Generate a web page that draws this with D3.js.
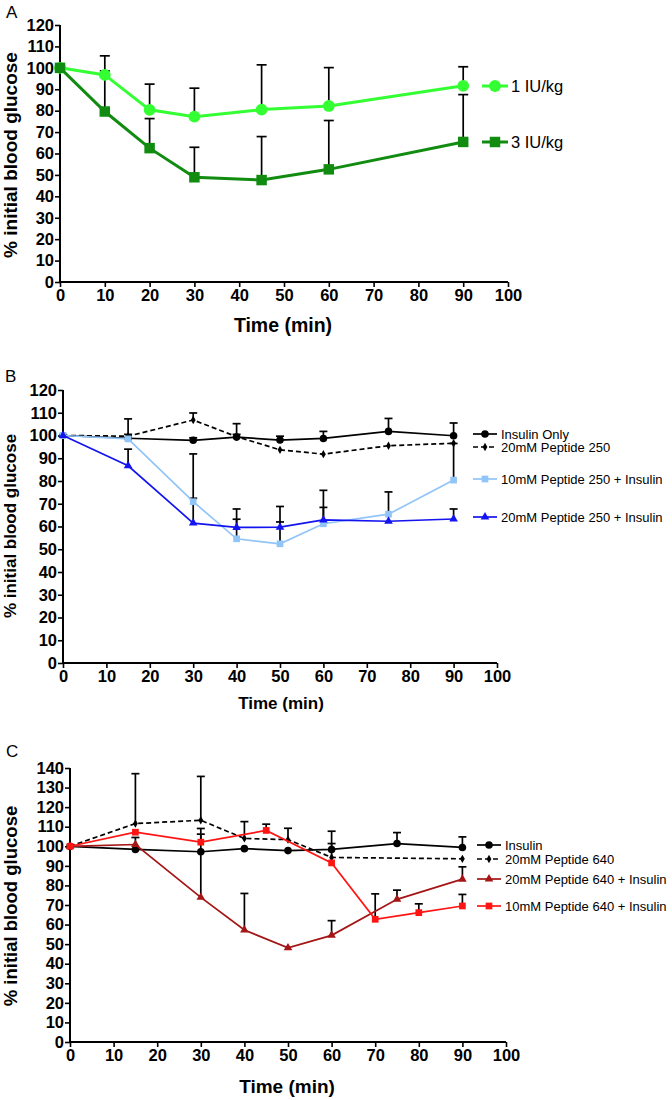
<!DOCTYPE html>
<html><head><meta charset="utf-8">
<script src="https://cdn.jsdelivr.net/npm/d3@7"></script>
<style>
html,body{margin:0;padding:0;background:#fff;}
svg{display:block;font-family:"Liberation Sans",Arial,sans-serif;}
</style></head>
<body>
<svg id="chart" width="672" height="1100"></svg>
<script>
// ---------- DATA ----------
// Panel A
const aTime = [0, 10, 20, 30, 45, 60, 90];
const a1IU = [100, 96.7, 80.4, 77.2, 80.5, 82.2, 91.6];
const a1IUUpper = [null, 105.6, 92.4, 90.5, 101.4, 100.1, 100.5];
const a3IU = [100, 79.6, 62.5, 48.9, 47.6, 52.6, 65.4];
const a3IUUpper = [null, 98.6, 76.3, 62.9, 67.9, 75.4, 87.5];
const aLabels = ["1 IU/kg", "3 IU/kg"];

// Panel B
const bTime = [0, 15, 30, 40, 50, 60, 75, 90];
const bInsulin = [100, 98.8, 97.9, 99.3, 98.0, 98.7, 101.8, 99.9];
const bInsulinUpper = [null, 100.5, 99.0, 100.5, 99.7, 101.8, 107.5, 105.5];
const bPep = [100, 99.7, 106.8, 99.5, 93.7, 91.8, 95.5, 96.6];
const bPepUpper = [null, 107.3, 109.9, 105.2, null, null, null, null];
const bPep10Ins = [100, 98.5, 70.9, 54.6, 52.4, 61.2, 65.4, 80.4];
const bPep10InsUpper = [null, null, 91.9, 67.7, 62.0, 75.9, 75.2, 96.5];
const bPep20Ins = [100, 86.7, 61.5, 59.6, 59.7, 62.9, 62.3, 63.3];
const bPep20InsUpper = [null, 94.0, 72.4, 63.2, 68.8, 68.4, null, 67.7];
const bLabels = ["Insulin Only", "20mM Peptide 250", "10mM Peptide 250 + Insulin", "20mM Peptide 250 + Insulin"];

// Panel C
const cInsTime = [0, 15, 30, 40, 50, 60, 75, 90];
const cInsulin = [100, 98.4, 97.2, 98.8, 97.8, 98.4, 101.4, 99.4];
const cInsulinUpper = [null, 104.5, null, null, null, 107.7, 107.0, 104.8];
const cPepTime = [0, 15, 30, 40, 50, 60, 90];
const cPep = [100, 111.6, 113.3, 104.0, 103.4, 94.3, 93.6];
const cPepUpper = [null, 137.1, 135.7, 112.6, 109.2, 101.4, null];
const cPep20Time = [0, 15, 30, 40, 50, 60, 75, 90];
const cPep20Ins = [100, 100.9, 73.9, 57.2, 48.1, 54.5, 72.9, 83.2];
const cPep20InsUpper = [null, null, 106.2, 75.9, null, 62.0, 77.6, 89.5];
const cPep10Time = [0, 15, 30, 45, 60, 70, 80, 90];
const cPep10Ins = [100, 107.2, 102.1, 108.1, 91.5, 62.7, 66.1, 69.5];
const cPep10InsUpper = [null, null, 109.1, 111.3, null, 75.7, 70.6, 75.4];
const cLabels = ["Insulin", "20mM Peptide 640", "20mM Peptide 640 + Insulin", "10mM Peptide 640 + Insulin"];

// Axes
const xTicks = [0, 10, 20, 30, 40, 50, 60, 70, 80, 90, 100];
const yTicksAB = d3.range(0, 121, 10);
const yTicksC = d3.range(0, 141, 10);
const xTitle = "Time (min)";
const yTitle = "% initial blood glucose";

// ---------- DRAW ----------
const svg = d3.select("#chart");

function zip(t, v, u) { return t.map((x, i) => ({ x, y: v[i], u: u[i] })); }

function symbolPath(shape, size) {
  const map = { circle: d3.symbolCircle, square: d3.symbolSquare, triangle: d3.symbolTriangle, diamond: d3.symbolDiamond };
  return d3.symbol().type(map[shape]).size(size)();
}

function panel(cfg) {
  const g = svg.append("g");
  const x = d3.scaleLinear().domain([0, 100]).range([cfg.x0, cfg.x1]);
  const y = d3.scaleLinear().domain([0, cfg.yMax]).range([cfg.y0, cfg.y1]);

  g.append("text").attr("x", cfg.letterX).attr("y", cfg.letterY)
    .attr("font-size", 17).text(cfg.letter);

  const xa = g.append("g").attr("transform", `translate(0,${cfg.y0})`)
    .call(d3.axisBottom(x).tickValues(xTicks).tickSize(5).tickPadding(2).tickFormat(d3.format("d")));
  const ya = g.append("g").attr("transform", `translate(${cfg.x0},0)`)
    .call(d3.axisLeft(y).tickValues(cfg.yTicks).tickSize(5).tickPadding(1).tickFormat(d3.format("d")));
  [xa, ya].forEach(a => {
    a.select(".domain").attr("stroke", "#000").attr("stroke-width", 2);
    a.selectAll(".tick line").attr("stroke", "#000").attr("stroke-width", 1.6);
    a.selectAll(".tick text").attr("fill", "#000").attr("font-size", cfg.tickFont)
      .attr("font-weight", "bold").attr("font-family", '"Liberation Sans",Arial,sans-serif');
  });
  xa.select(".domain").attr("d", `M${cfg.x0},0H${cfg.x1}`);
  ya.select(".domain").attr("d", `M0,${cfg.y0}V${cfg.y1}`);

  g.append("text").attr("x", cfg.xTitleX).attr("y", cfg.xTitleY).attr("text-anchor", "middle")
    .attr("font-size", cfg.xTitleFont).attr("font-weight", "bold").text(xTitle);
  g.append("text").attr("transform", `translate(${cfg.yTitleX},${cfg.yTitleY}) rotate(-90)`)
    .attr("text-anchor", "middle").attr("font-size", cfg.yTitleFont).attr("font-weight", "bold").text(yTitle);

  const line = d3.line().x(d => x(d.x)).y(d => y(d.y));

  cfg.series.forEach(s => {
    const eb = s.data.filter(d => d.u != null);
    const eg = g.append("g");
    eg.selectAll("line.v").data(eb).join("line")
      .attr("x1", d => x(d.x)).attr("x2", d => x(d.x))
      .attr("y1", d => y(d.y)).attr("y2", d => y(d.u))
      .attr("stroke", "#000").attr("stroke-width", cfg.ebWidth);
    eg.selectAll("line.c").data(eb).join("line")
      .attr("x1", d => x(d.x) - cfg.cap).attr("x2", d => x(d.x) + cfg.cap)
      .attr("y1", d => y(d.u)).attr("y2", d => y(d.u))
      .attr("stroke", "#000").attr("stroke-width", cfg.ebWidth);
  });

  cfg.series.forEach(s => {
    g.append("path").datum(s.data).attr("d", line).attr("fill", "none")
      .attr("stroke", s.color).attr("stroke-width", s.lw)
      .attr("stroke-dasharray", s.dash || null);
    g.selectAll(null).data(s.data).join("path")
      .attr("transform", d => `translate(${x(d.x)},${y(d.y)})`)
      .attr("d", symbolPath(s.shape, s.size)).attr("fill", s.color);
  });

  cfg.series.forEach((s, i) => {
    const ly = cfg.legendY[i];
    g.append("line").attr("x1", cfg.legX0).attr("x2", cfg.legX1).attr("y1", ly).attr("y2", ly)
      .attr("stroke", s.color).attr("stroke-width", s.lw).attr("stroke-dasharray", s.dash || null);
    g.append("path").attr("transform", `translate(${(cfg.legX0 + cfg.legX1) / 2},${ly})`)
      .attr("d", symbolPath(s.shape, s.size)).attr("fill", s.color);
    g.append("text").attr("x", cfg.legTextX).attr("y", ly).attr("dy", "0.36em")
      .attr("font-size", cfg.legFont).text(s.label);
  });
}

panel({
  letter: "A", letterX: 6, letterY: 18,
  x0: 60, x1: 508, y0: 282, y1: 25, yMax: 120, yTicks: yTicksAB, tickFont: 16.5,
  xTitleX: 283, xTitleY: 332, xTitleFont: 19.5,
  yTitleX: 17, yTitleY: 155, yTitleFont: 19,
  ebWidth: 1.7, cap: 5,
  legX0: 482, legX1: 508, legTextX: 511, legFont: 16.5, legendY: [86, 142],
  series: [
    { label: aLabels[0], data: zip(aTime, a1IU, a1IUUpper), color: "#33ff33", lw: 3, shape: "circle", size: 110 },
    { label: aLabels[1], data: zip(aTime, a3IU, a3IUUpper), color: "#118c11", lw: 3, shape: "square", size: 110 }
  ]
});

panel({
  letter: "B", letterX: 5, letterY: 382,
  x0: 63, x1: 497, y0: 663, y1: 390, yMax: 120, yTicks: yTicksAB, tickFont: 16.5,
  xTitleX: 281, xTitleY: 709, xTitleFont: 17,
  yTitleX: 16, yTitleY: 526, yTitleFont: 17,
  ebWidth: 1.7, cap: 4,
  legX0: 473, legX1: 497, legTextX: 501, legFont: 13, legendY: [434, 447, 479, 517],
  series: [
    { label: bLabels[0], data: zip(bTime, bInsulin, bInsulinUpper), color: "#000", lw: 1.7, shape: "circle", size: 45 },
    { label: bLabels[1], data: zip(bTime, bPep, bPepUpper), color: "#000", lw: 1.7, shape: "diamond", size: 20, dash: "5,3" },
    { label: bLabels[2], data: zip(bTime, bPep10Ins, bPep10InsUpper), color: "#92c5f7", lw: 1.7, shape: "square", size: 45 },
    { label: bLabels[3], data: zip(bTime, bPep20Ins, bPep20InsUpper), color: "#1414f0", lw: 1.7, shape: "triangle", size: 32 }
  ]
});

panel({
  letter: "C", letterX: 6, letterY: 757,
  x0: 70, x1: 506, y0: 1042, y1: 768, yMax: 140, yTicks: yTicksC, tickFont: 16.5,
  xTitleX: 287, xTitleY: 1093, xTitleFont: 19,
  yTitleX: 17, yTitleY: 906, yTitleFont: 18.5,
  ebWidth: 1.7, cap: 4,
  legX0: 477, legX1: 501, legTextX: 505, legFont: 13, legendY: [845, 859, 879, 906],
  series: [
    { label: cLabels[0], data: zip(cInsTime, cInsulin, cInsulinUpper), color: "#000", lw: 1.7, shape: "circle", size: 45 },
    { label: cLabels[1], data: zip(cPepTime, cPep, cPepUpper), color: "#000", lw: 1.7, shape: "diamond", size: 20, dash: "5,3" },
    { label: cLabels[2], data: zip(cPep20Time, cPep20Ins, cPep20InsUpper), color: "#a51515", lw: 1.7, shape: "triangle", size: 32 },
    { label: cLabels[3], data: zip(cPep10Time, cPep10Ins, cPep10InsUpper), color: "#ff1414", lw: 1.7, shape: "square", size: 45 }
  ]
});
</script>
</body></html>
